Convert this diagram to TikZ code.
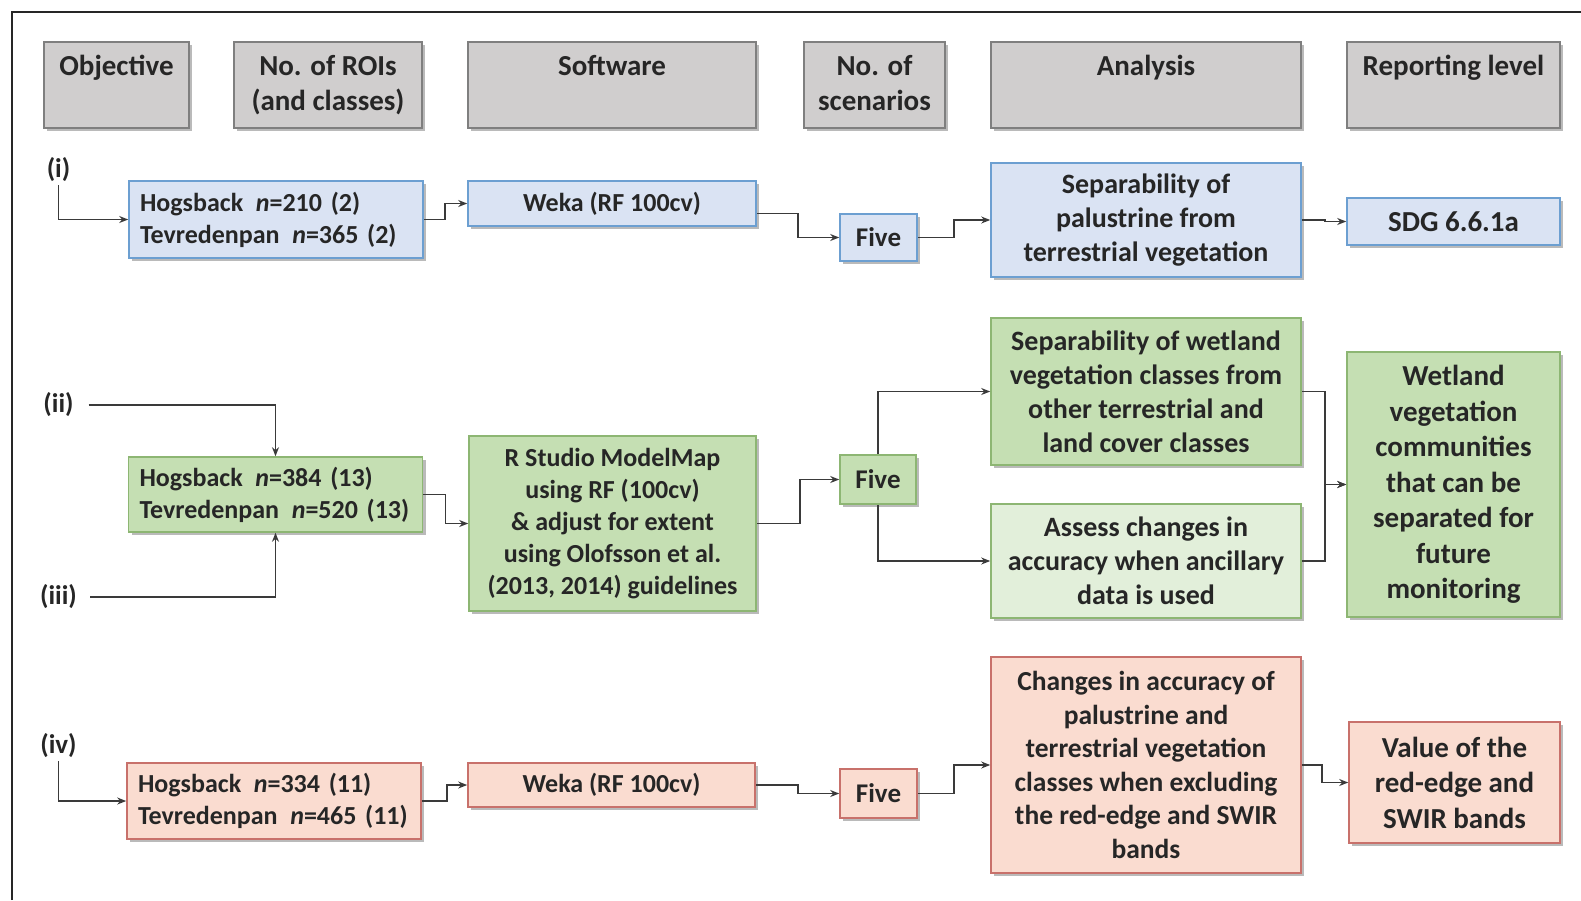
\documentclass[tikz,border=0pt]{standalone}
\usepackage{fontspec}
\setmainfont{Carlito}
\usetikzlibrary{arrows.meta,calc,shadows}
\definecolor{hdrfill}{HTML}{D0CECE}
\definecolor{hdrline}{HTML}{7F7F7F}
\definecolor{bluefill}{HTML}{DAE3F3}
\definecolor{blueline}{HTML}{6C9FD1}
\definecolor{grnfill}{HTML}{C5DFB3}
\definecolor{grnlite}{HTML}{E2EFDA}
\definecolor{grnline}{HTML}{8DB673}
\definecolor{redfill}{HTML}{FADCD0}
\definecolor{redline}{HTML}{C8716B}
\definecolor{wire}{HTML}{3A3A3A}
\definecolor{ink}{HTML}{262626}
\tikzset{
  >={Stealth[length=9pt,width=7pt]},
  bx/.style={rectangle,draw,line width=1.6pt,inner sep=3pt,align=center,text=ink,
    font=\fontsize{28}{34}\selectfont\bfseries,
    drop shadow={shadow xshift=3pt,shadow yshift=-3pt,opacity=.45,fill=black!60}},
  sz/.style 2 args={minimum width=#1,minimum height=#2},
  hl/.style={anchor=north,yshift=-12pt,align=center,inner sep=2pt,text=ink,font=\fontsize{29}{35}\selectfont\bfseries},
  hdr/.style={bx,fill=hdrfill,draw=hdrline,label={[hl]north:#1}},
  ib/.style={bx,fill=bluefill,draw=blueline},
  gb/.style={bx,fill=grnfill,draw=grnline},
  rb/.style={bx,fill=redfill,draw=redline},
  roi/.style={text width=272pt,inner xsep=11pt,align=left,font=\fontsize{26}{32}\selectfont\bfseries},
  sm/.style={font=\fontsize{26}{32}\selectfont\bfseries},
  fv/.style={font=\fontsize{27}{33}\selectfont\bfseries},
  big/.style={font=\fontsize{29}{35.5}\selectfont\bfseries},
  lab/.style={inner sep=3pt,text=ink,font=\fontsize{27}{33}\selectfont\bfseries},
  w/.style={->,draw=wire,line width=1.4pt},
}
\newcommand{\nn}{\hspace{4pt}\textit{n}}
\begin{document}
\begin{tikzpicture}[x=1pt,y=-1pt]
\useasboundingbox (0,0) rectangle (1581,900);
\draw[line width=2pt,black!85] (12,900)--(12,12)--(1581,12);
% column heads
\node[hdr=Objective,sz={145pt}{86pt}] (hObj) at (116.5,85){};
\node[hdr={No. of ROIs\\(and classes)},sz={188pt}{86pt}] (hRoi) at (328,85){};
\node[hdr=Software,sz={288pt}{86pt}] (hSw) at (612,85){};
\node[hdr={No. of\\scenarios},sz={141pt}{86pt}] (hSc) at (874.5,85){};
\node[hdr=Analysis,sz={310pt}{86pt}] (hAn) at (1146,85){};
\node[hdr=Reporting level,sz={213pt}{86pt}] (hRep) at (1453.5,85){};
% (i)
\node[lab] (labI) at (58.5,170){(i)};
\node[ib,roi,sz={294pt}{77pt}] (roiA) at (276,219.5){Hogsback \nn=210 (2)\\Tevredenpan \nn=365 (2)};
\node[ib,sm,sz={288pt}{45pt}] (wekaA) at (612,203.5){Weka (RF 100cv)};
\node[ib,fv,sz={77pt}{47pt}] (fiveA) at (878.5,237.5){Five};
\node[ib,sz={310pt}{114pt}] (sepA) at (1146,220){Separability of\\palustrine from\\terrestrial vegetation};
\node[ib,big,sz={213pt}{47pt}] (sdgA) at (1453.5,221.5){SDG 6.6.1a};
\draw[w] (labI.south) |- (roiA.west);
\draw[w] (roiA.east) -- ++(21,0) |- (wekaA.west);
\draw[w] ($(wekaA.east)+(0,10)$) -- ++(41,0) |- (fiveA.west);
\draw[w] (fiveA.east) -- ++(36,0) |- (sepA.west);
\draw[w] (sepA.east) -- ++(23,0) |- (sdgA.west);
% (ii) and (iii)
\node[lab] (labII) at (58.5,405){(ii)};
\node[lab] (labIII) at (58.5,597){(iii)};
\node[gb,roi,sz={293pt}{75pt}] (roiB) at (275.5,494.5){Hogsback \nn=384 (13)\\Tevredenpan \nn=520 (13)};
\node[gb,sm,sz={287pt}{175pt}] (rsB) at (612.5,523.5){R Studio ModelMap\\using RF (100cv)\\\& adjust for extent\\using Olofsson et al.\\(2013, 2014) guidelines};
\node[gb,fv,sz={76pt}{49pt}] (fiveB) at (878,479.5){Five};
\node[gb,sz={310pt}{147pt}] (sepB) at (1146,391.5){Separability of wetland\\vegetation classes from\\other terrestrial and\\land cover classes};
\node[gb,fill=grnlite,sz={310pt}{114pt}] (assB) at (1146,561){Assess changes in\\accuracy when ancillary\\data is used};
\node[gb,big,sz={213pt}{265pt}] (wetB) at (1453.5,484.5){Wetland\\vegetation\\communities\\that can be\\separated for\\future\\monitoring};
\draw[w,shorten <=12pt] (labII.east) -| (roiB.north);
\draw[w,shorten <=10pt] (labIII.east) -| (roiB.south);
\draw[w] (roiB.east) -- ++(22,0) |- (rsB.west);
\draw[w] (rsB.east) -- ++(43,0) |- (fiveB.west);
\draw[w] (fiveB.north) |- (sepB.west);
\draw[w] (fiveB.south) |- (assB.west);
\draw[w] (sepB.east) -- ++(23,0) |- (wetB.west);
\draw[w] (assB.east) -- ++(23,0) |- (wetB.west);
% (iv)
\node[lab] (labIV) at (58.5,746){(iv)};
\node[rb,roi,sz={290pt}{76pt}] (roiD) at (274,801){Hogsback \nn=334 (11)\\Tevredenpan \nn=465 (11)};
\node[rb,sm,sz={287pt}{44pt}] (wekaD) at (611.5,785){Weka (RF 100cv)};
\node[rb,fv,sz={77pt}{49pt}] (fiveD) at (878.5,793.5){Five};
\node[rb,font=\fontsize{27.5}{33.5}\selectfont\bfseries,sz={310pt}{216pt}] (chD) at (1146,765){Changes in accuracy of\\palustrine and\\terrestrial vegetation\\classes when excluding\\the red-edge and SWIR\\bands};
\node[rb,big,sz={211pt}{121pt}] (valD) at (1454.5,782.5){Value of the\\red-edge and\\SWIR bands};
\draw[w] (labIV.south) |- (roiD.west);
\draw[w] (roiD.east) -- ++(25,0) |- (wekaD.west);
\draw[w] (wekaD.east) -- ++(42,0) |- (fiveD.west);
\draw[w] (fiveD.east) -- ++(36,0) |- (chD.west);
\draw[w] (chD.east) -- ++(20,0) |- (valD.west);
\end{tikzpicture}
\end{document}
